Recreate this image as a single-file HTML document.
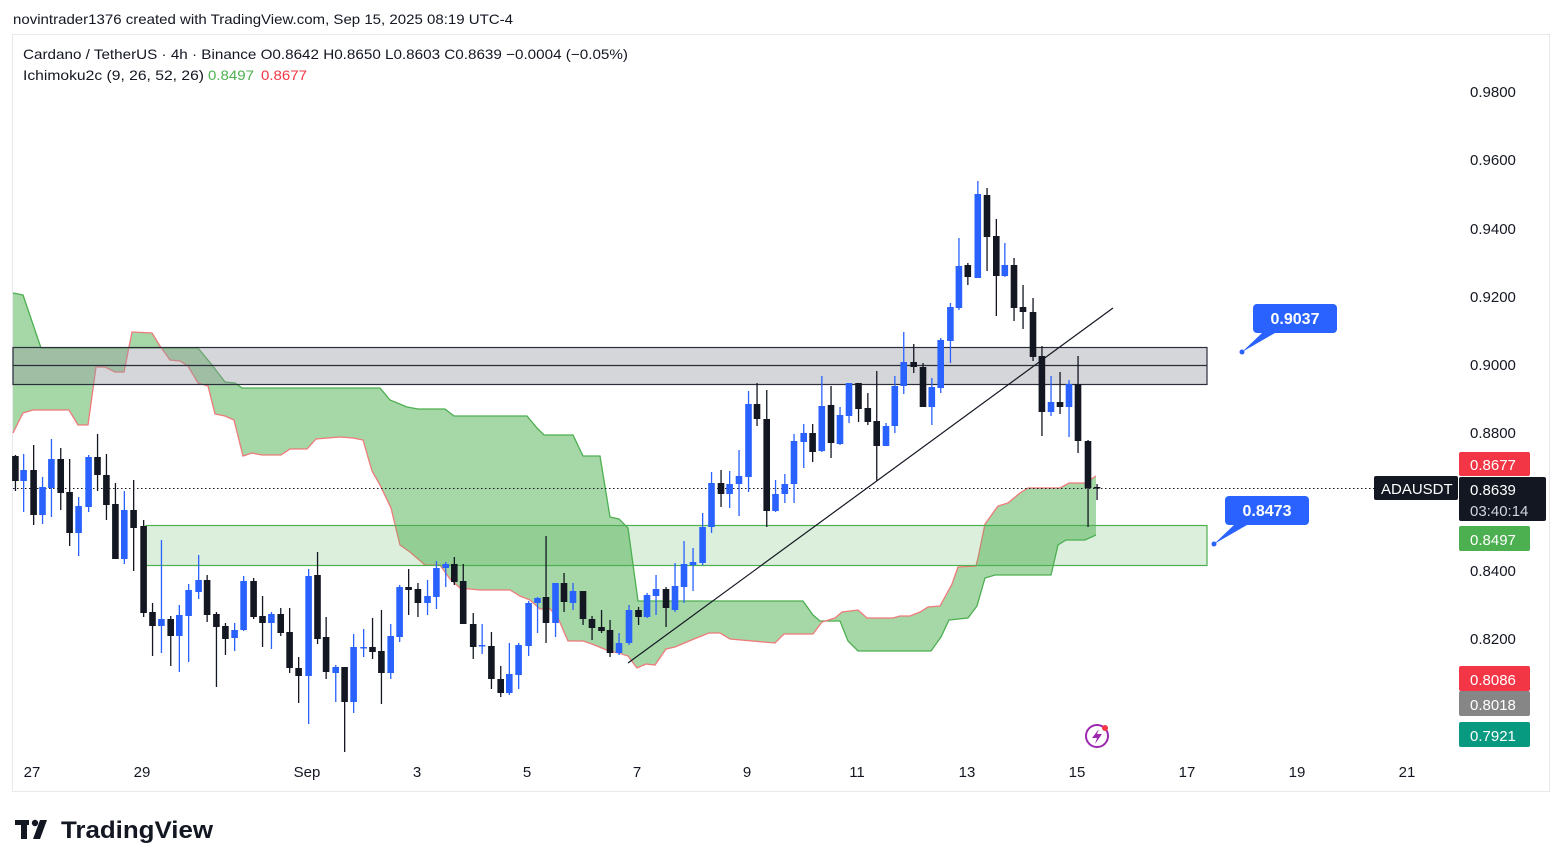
<!DOCTYPE html>
<html><head><meta charset="utf-8"><style>
html,body{margin:0;padding:0;background:#fff;width:1563px;height:867px;overflow:hidden}
svg{display:block;font-family:"Liberation Sans",sans-serif}
</style></head><body>
<svg id="s" width="1563" height="867" viewBox="0 0 1563 867" xmlns="http://www.w3.org/2000/svg">
<rect x="0" y="0" width="1563" height="867" fill="#fff"/>
<text x="13" y="24" font-size="14" fill="#131722" textLength="500" lengthAdjust="spacingAndGlyphs">novintrader1376 created with TradingView.com, Sep 15, 2025 08:19 UTC-4</text>
<rect x="12.5" y="34.5" width="1537" height="757" fill="none" stroke="#e8e9ec"/>
<text x="23" y="59" font-size="14" fill="#131722" textLength="605" lengthAdjust="spacingAndGlyphs">Cardano / TetherUS · 4h · Binance  O0.8642  H0.8650  L0.8603  C0.8639  −0.0004 (−0.05%)</text>
<text x="23" y="80" font-size="14" fill="#131722" textLength="181" lengthAdjust="spacingAndGlyphs">Ichimoku2c (9, 26, 52, 26)</text>
<text x="208" y="80" font-size="14" fill="#4caf50" textLength="46" lengthAdjust="spacingAndGlyphs">0.8497</text>
<text x="261" y="80" font-size="14" fill="#f23645" textLength="46" lengthAdjust="spacingAndGlyphs">0.8677</text>
<g id="cloud"></g>
<rect x="13" y="347.5" width="1194" height="37" fill="#9598a1" fill-opacity="0.4" stroke="#2a2e39" stroke-width="1.2"/>
<line x1="13" y1="365.5" x2="1207" y2="365.5" stroke="#2a2e39" stroke-width="1.2"/>
<rect x="146" y="525.5" width="1061" height="40" fill="#4caf50" fill-opacity="0.2" stroke="#4caf50" stroke-width="1.2"/>
<line x1="13" y1="488.5" x2="1375" y2="488.5" stroke="#131722" stroke-dasharray="1.5 2.5" stroke-width="1"/>
<g id="candles"></g>
<line x1="628" y1="663" x2="1113" y2="308" stroke="#131722" stroke-width="1.2"/>
<!-- callouts -->
<path d="M1242 352 L1262 333 L1275 333 Z" fill="#2962ff"/>
<rect x="1253" y="304" width="84" height="29" rx="4" fill="#2962ff"/>
<circle cx="1242" cy="352" r="2.5" fill="#2962ff"/>
<text x="1295" y="324" font-size="16" font-weight="bold" fill="#fff" text-anchor="middle">0.9037</text>
<path d="M1214 544 L1234 525 L1247 525 Z" fill="#2962ff"/>
<rect x="1225" y="496" width="84" height="29" rx="4" fill="#2962ff"/>
<circle cx="1214" cy="544" r="2.5" fill="#2962ff"/>
<text x="1267" y="516" font-size="16" font-weight="bold" fill="#fff" text-anchor="middle">0.8473</text>
<!-- axis -->
<g font-size="15" fill="#131722" text-anchor="start">
<text x="1470" y="97">0.9800</text>
<text x="1470" y="165">0.9600</text>
<text x="1470" y="234">0.9400</text>
<text x="1470" y="302">0.9200</text>
<text x="1470" y="370">0.9000</text>
<text x="1470" y="438">0.8800</text>
<text x="1470" y="576">0.8400</text>
<text x="1470" y="644">0.8200</text>
</g>
<g font-size="15" fill="#fff">
<rect x="1459" y="452" width="71" height="24" rx="2" fill="#f23645"/><text x="1470" y="470">0.8677</text>
<rect x="1374" y="476" width="84" height="24" rx="2" fill="#131722"/><text x="1381" y="494">ADAUSDT</text>
<rect x="1459" y="477" width="87" height="44" rx="2" fill="#131722"/><text x="1470" y="495">0.8639</text><text x="1470" y="516" fill="#d1d4dc">03:40:14</text>
<rect x="1459" y="526" width="71" height="25" rx="2" fill="#4caf50"/><text x="1470" y="545">0.8497</text>
<rect x="1459" y="666" width="71" height="25" rx="2" fill="#f23645"/><text x="1470" y="685">0.8086</text>
<rect x="1459" y="691" width="71" height="25" rx="2" fill="#868686"/><text x="1470" y="710">0.8018</text>
<rect x="1459" y="722" width="71" height="25" rx="2" fill="#089981"/><text x="1470" y="741">0.7921</text>
</g>
<g font-size="15" fill="#131722" text-anchor="middle">
<text x="32" y="777">27</text><text x="142" y="777">29</text><text x="307" y="777">Sep</text><text x="417" y="777">3</text><text x="527" y="777">5</text><text x="637" y="777">7</text><text x="747" y="777">9</text><text x="857" y="777">11</text><text x="967" y="777">13</text><text x="1077" y="777">15</text><text x="1187" y="777">17</text><text x="1297" y="777">19</text><text x="1407" y="777">21</text>
</g>
<circle cx="1097" cy="736" r="11" fill="none" stroke="#9c27b0" stroke-width="2"/>
<path d="M1099 729 L1092 738 L1097 738 L1095 744 L1102 734 L1097 734 Z" fill="#9c27b0"/>
<circle cx="1105" cy="728" r="3" fill="#f23645"/>
<!-- logo -->
<g fill="#131722">
<rect x="15" y="820" width="14" height="5"/><rect x="21" y="820" width="6" height="19"/>
<circle cx="35" cy="823" r="3.2"/>
<path d="M40 820 L47 820 L40 839 L33 839 Z"/>
<text x="61" y="838" font-size="24" font-weight="bold" textLength="152" lengthAdjust="spacingAndGlyphs">TradingView</text>
</g>
</svg>
<script>
var NS="http://www.w3.org/2000/svg";
function el(p,t,a){var e=document.createElementNS(NS,t);for(var k in a)e.setAttribute(k,a[k]);p.appendChild(e);return e;}
var green=[[13,293],[23,295],[41,348],[198,348],[212,365],[225,382],[235,383],[242,388],[380,388],[390,400],[407,407],[418,409],[445,409],[454,416],[527,416],[537,428],[544,435],[573,435],[583,456],[600,456],[610,517],[619,519],[628,528],[638,601],[803,601],[813,615],[820,621],[840,621],[848,641],[858,651],[931,651],[941,637],[949,620],[968,618],[977,606],[985,578],[995,575],[1051,575],[1058,545],[1066,540],[1085,540],[1096,535]];
var red=[[13,433],[23,413],[33,410],[69,410],[78,425],[88,425],[96,367],[105,367],[115,372],[124,372],[132,332],[152,333],[160,346],[170,360],[180,361],[188,366],[198,383],[208,386],[215,414],[225,416],[234,420],[243,456],[252,453],[262,455],[281,455],[290,449],[307,449],[316,439],[340,437],[353,438],[363,440],[372,471],[380,485],[391,508],[400,545],[410,552],[425,565],[440,565],[450,579],[460,588],[480,590],[510,590],[520,596],[530,600],[540,609],[550,609],[558,618],[568,641],[583,641],[592,644],[609,651],[619,653],[628,656],[637,668],[646,664],[655,665],[666,649],[675,647],[694,639],[709,633],[720,633],[730,639],[775,643],[784,634],[813,634],[822,622],[835,618],[842,612],[858,610],[867,618],[881,618],[893,618],[900,616],[910,616],[920,612],[928,607],[940,606],[952,584],[958,567],[976,566],[978,558],[985,524],[998,506],[1008,503],[1020,493],[1028,488],[1060,488],[1069,483],[1085,483],[1096,476]];
var cg=document.getElementById('cloud');
var pts=green.map(function(p){return p.join(',')}).concat(red.slice().reverse().map(function(p){return p.join(',')})).join(' ');
el(cg,'polygon',{points:pts,fill:'#4caf50','fill-opacity':'0.5',stroke:'none'});
el(cg,'polyline',{points:green.map(function(p){return p.join(',')}).join(' '),fill:'none',stroke:'#4caf50','stroke-width':'1.3'});
el(cg,'polyline',{points:red.map(function(p){return p.join(',')}).join(' '),fill:'none',stroke:'#ef7a7a','stroke-width':'1.3'});
var C=[
[15.4,'k',456,481,455,491],[23.6,'b',470,481,454,512],[33.6,'k',470,515,445,525],[42.5,'b',487,515,477,524],[51.4,'b',459,488,439,517],[60.7,'k',459,493,448,510],[69.6,'k',492,533,459,546],[78.6,'b',506,533,497,556],[88.6,'b',457,507,455,512],[97.5,'k',457,475,434,491],[106.4,'k',475,505,454,520],[115.4,'k',504,559,483,559],[124.3,'b',510,559,491,564],[133.6,'k',510,528,480,571],[143.6,'k',526,613,520,617],[152.5,'k',612,626,603,656],[161.4,'b',619,626,540,653],[170.7,'k',619,636,616,666],[179.3,'b',615,636,605,672],[188.6,'b',590,616,584,662],[198.6,'b',580,592,555,599],[207.1,'k',580,615,575,622],[216.4,'k',614,627,612,687],[225.4,'k',626,639,623,655],[234.6,'b',630,638,623,651],[243.6,'b',581,630,576,631],[253.6,'k',581,617,578,619],[262.5,'k',616,623,596,647],[271.4,'b',614,623,612,649],[280.7,'k',614,633,608,636],[289.6,'k',632,668,608,673],[298.6,'k',668,676,657,703],[308.6,'b',576,676,569,724],[317.5,'k',575,639,552,644],[326.1,'k',637,672,617,679],[335.7,'b',667,673,665,702],[344.6,'k',667,702,667,752],[353.6,'b',647,702,634,713],[363.6,'b',647,648,629,657],[372.5,'k',647,652,618,659],[381.4,'k',651,673,610,704],[390.7,'b',636,673,624,679],[399.6,'b',587,637,585,642],[408.6,'k',587,590,569,615],[417.9,'k',589,603,583,617],[427.5,'b',596,603,580,615],[436.4,'b',568,597,561,609],[445.7,'b',564,568,562,587],[454.3,'k',564,582,557,585],[463.2,'k',581,624,564,624],[473.2,'k',624,647,613,659],[482.1,'b',645,646,624,654],[491.4,'k',646,679,632,689],[500.7,'k',679,693,666,697],[509.3,'b',674,693,643,695],[518.6,'b',645,675,643,689],[528.6,'b',603,646,601,656],[537.5,'b',598,603,597,633],
[546,'k',597,623,536,643],[555.5,'b',583,623,583,637],[564,'k',583,602,573,612],[573,'b',591,603,583,610],[583,'k',591,619,591,625],[592,'k',619,628,616,640],[601.5,'k',627,631,610,633],[610,'k',630,653,620,657],[619,'b',643,653,633,655],[629,'b',610,643,605,645],[638.5,'k',610,617,607,625],[647,'b',595,617,593,618],[656,'b',589,596,575,615],[666,'k',589,608,587,627],[675,'b',586,610,563,612],[684,'b',564,587,541,603],[693,'b',562,565,548,591],[702.6,'b',527,563,513,565],[711.5,'b',483,527,472,533],[721,'k',483,494,470,507],[729.6,'b',484,494,471,508],[739,'b',476,484,450,516],[748.5,'b',404,477,391,492],[757,'k',404,419,383,426],[766.7,'k',419,511,390,527],[775.5,'b',494,511,480,512],[784.8,'b',484,494,474,503],[794,'b',441,484,434,503],[803.7,'b',433,442,424,468],[812.6,'k',433,452,424,462],[821.8,'b',406,451,376,452],[831,'k',405,443,386,458],[840,'b',415,444,407,445],[849,'b',383,416,383,423],[858.5,'k',383,409,383,422],[867.8,'k',408,422,393,425],[876.7,'k',421,446,371,481],[886,'b',426,446,423,446],[894.8,'b',386,426,376,433],[903.7,'b',362,386,332,394],[913.7,'k',362,367,344,373],[923,'k',367,407,363,407],[931.8,'b',387,407,378,425],[940.7,'b',340,388,338,393],[950.4,'b',307,341,303,363],[958.9,'b',266,308,238,310],[967.8,'k',265,277,263,285],[977.8,'b',194,278,181,278],[987,'k',195,237,188,271],[996.3,'k',236,276,219,316],[1004.8,'b',265,276,243,277],[1014,'k',265,308,258,321],[1023,'k',307,312,285,329],[1033,'k',312,357,298,361],[1041.9,'k',356,412,346,436],[1051,'b',402,412,376,416],[1060,'k',402,407,372,414],[1069,'b',384,407,380,437],[1078,'k',384,441,356,453],[1088,'k',441,488,440,527],[1097,'k',487,488.5,484,500]];
var g=document.getElementById('candles');
C.forEach(function(c){var col=c[1]=='b'?'#2962ff':'#131722';
el(g,'rect',{x:c[0]-0.6,y:c[4],width:1.3,height:c[5]-c[4],fill:col});
var h=Math.max(c[3]-c[2],1.5);
el(g,'rect',{x:c[0]-3.3,y:c[2],width:6.6,height:h,fill:col});});
</script>
</body></html>
